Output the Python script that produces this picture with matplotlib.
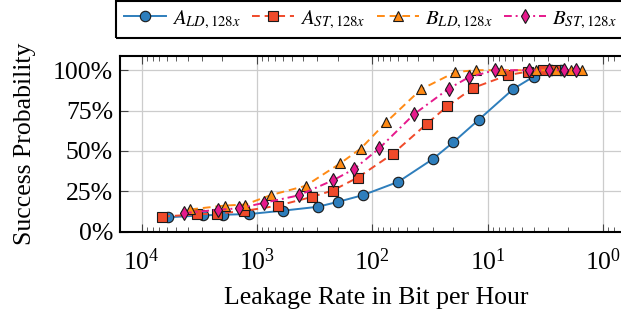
import matplotlib
matplotlib.use("Agg")
from matplotlib import pyplot as plt
from matplotlib.patches import Rectangle
from matplotlib.ticker import LogLocator, NullFormatter, FixedLocator, FixedFormatter
import numpy as np

plt.rcParams["font.family"] = "serif"
plt.rcParams["font.serif"] = ["Liberation Serif", "DejaVu Serif"]
plt.rcParams["mathtext.fontset"] = "stix"

# leakage rate (bit/h) and success probability (%)
a_ld_rate = [5950, 2960, 1960, 1173, 598, 298, 198, 120, 59.5, 29.9, 19.8, 11.9, 5.98, 4.0, 2.8, 2.3]
a_ld_prob = [8.8, 10.0, 10.4, 10.8, 12.9, 15.3, 18.4, 22.6, 30.8, 44.9, 55.4, 69.4, 88.4, 96.0, 100, 100]

a_st_rate = [6630, 3310, 2220, 1303, 660, 335, 221, 134, 66.6, 33.6, 22.3, 13.4, 6.66, 4.43, 3.34, 2.6]
a_st_prob = [9.2, 10.7, 11.1, 12.7, 16.0, 21.4, 25.4, 33.4, 48.1, 66.8, 77.7, 89.0, 97.0, 99.2, 100, 100]

b_ld_rate = [3790, 1883, 1263, 756, 379, 190, 126, 75.7, 37.9, 19.0, 12.6, 7.65, 3.8, 2.55, 1.91, 1.52]
b_ld_prob = [13.7, 16.1, 16.7, 22.6, 28.3, 42.2, 51.4, 67.8, 88.1, 98.9, 100, 100, 100, 100, 100, 100]

b_st_rate = [4300, 2158, 1433, 864, 435, 217, 144, 86.9, 43.5, 21.7, 14.6, 8.7, 4.36, 2.92, 2.17, 1.73]
b_st_prob = [11.4, 13.5, 14.4, 17.8, 22.4, 31.9, 38.7, 51.6, 72.7, 88.6, 95.6, 100, 100, 100, 100, 100]

y_ticks = [0, 25, 50, 75, 100]
y_labels = ["0%", "25%", "50%", "75%", "100%"]

fig = plt.figure(figsize=(6.21, 3.15), dpi=100)
ax = fig.add_axes([120 / 621, 1 - 231.5 / 315, 512 / 621, 175.8 / 315])

ax.plot(a_ld_rate, a_ld_prob, color="#2e7ebc", lw=1.4, ls="-", marker="o", ms=7.5,
        mfc="#2e7ebc", mec="#1a1a1a", mew=0.8, label=r"$A_{LD,128x}$", zorder=3)
ax.plot(a_st_rate, a_st_prob, color="#f04a2a", lw=1.4, ls=(0, (4, 2.5)), marker="s", ms=7.5,
        mfc="#f04a2a", mec="#1a1a1a", mew=0.8, label=r"$A_{ST,128x}$", zorder=3)
ax.plot(b_ld_rate, b_ld_prob, color="#ff8a14", lw=1.4, ls=(0, (4, 2.5)), marker="^", ms=7,
        mfc="#ff8a14", mec="#1a1a1a", mew=0.8, label=r"$B_{LD,128x}$", zorder=3)
ax.plot(b_st_rate, b_st_prob, color="#e6198c", lw=1.4, ls=(0, (4, 2, 1, 2)), marker="d", ms=7.5,
        mfc="#e6198c", mec="#1a1a1a", mew=0.8, label=r"$B_{ST,128x}$", zorder=3)

ax.set_xscale("log")
ax.set_xlim(15400, 0.56)
ax.set_ylim(0, 109)

ax.xaxis.set_major_locator(LogLocator(base=10, numticks=10))
ax.xaxis.set_minor_locator(LogLocator(base=10, subs=np.arange(2, 10), numticks=20))
ax.xaxis.set_minor_formatter(NullFormatter())
ax.yaxis.set_major_locator(FixedLocator(y_ticks))
ax.yaxis.set_major_formatter(FixedFormatter(y_labels))

ax.tick_params(which="both", direction="in", top=True, right=True, labelsize=18.5, color="#444444")
ax.tick_params(which="major", length=6, width=0.8)
ax.tick_params(which="minor", length=3.5, width=0.6)
ax.tick_params(axis="x", which="major", pad=12)
ax.tick_params(axis="y", which="major", pad=5)
ax.grid(True, which="major", color="#cccccc", lw=0.9, zorder=0)
ax.set_axisbelow(True)
for s in ax.spines.values():
    s.set_linewidth(1.5)

ax.set_xlabel("Leakage Rate in Bit per Hour", fontsize=18.5, labelpad=9)
ax.set_ylabel("Success Probability", fontsize=18.5, labelpad=12)

leg = fig.legend(loc="center left", bbox_to_anchor=(124 / 621, 1 - 19.5 / 315),
                 ncol=4, fontsize=15, frameon=False, handlelength=2.0,
                 handletextpad=0.3, borderpad=0, borderaxespad=0, columnspacing=0.55)
fig.patches.append(Rectangle((115.7 / 621, 1 - 37.7 / 315), 0.9, 36.5 / 315,
                             transform=fig.transFigure, fill=False, lw=1.5, ec="black"))

fig.savefig("out.png", dpi=100)
